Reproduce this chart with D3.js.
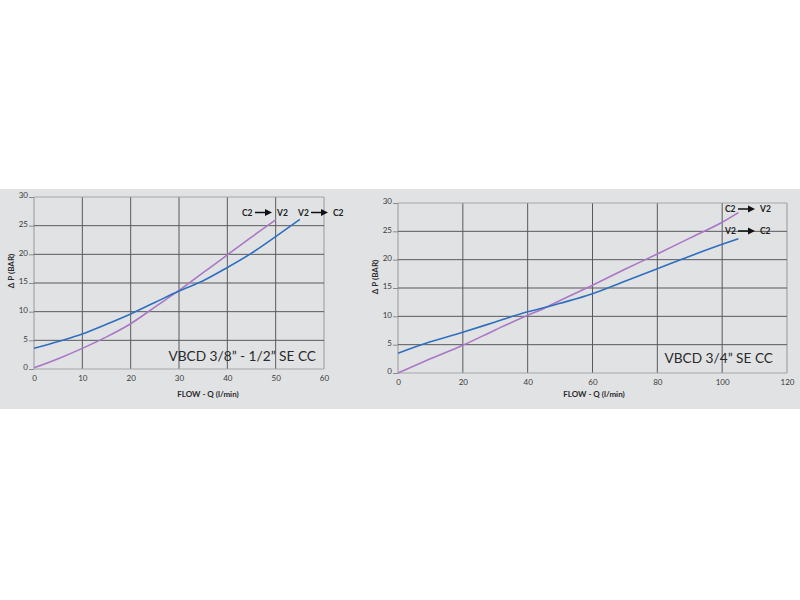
<!DOCTYPE html>
<html><head><meta charset="utf-8">
<script src="https://cdn.jsdelivr.net/npm/d3@7"></script>
<style>body{margin:0;background:#fff;} text{font-family:"Lato","DejaVu Sans",sans-serif;}</style>
</head><body>
<svg id="c" width="800" height="600"></svg>
<script>
// ---- data ----
const leftFlowV2C2 = [0,5,10,15,20,25,30,35,40,45,50,55];
const leftV2C2     = [3.6,4.8,6.1,7.8,9.6,11.6,13.6,15.4,17.7,20.2,23.1,26.1];
const leftFlowC2V2 = [0,5,10,15,20,25,30,35,40,45,50];
const leftC2V2     = [0.2,1.8,3.6,5.6,7.9,10.8,13.7,16.8,19.9,23.0,26.0];
const leftXTicks = [0,10,20,30,40,50,60];
const leftYTicks = [0,5,10,15,20,25,30];

const rightFlow    = [0,10,20,30,40,45,50,60,70,80,90,100,105];
const rightV2C2    = [3.5,5.5,7.2,9.0,10.8,11.5,12.3,14.0,16.2,18.4,20.6,22.7,23.7];
const rightC2V2    = [0,2.5,4.9,7.6,10.2,11.4,12.8,15.5,18.3,21.0,23.8,26.6,28.3];
const rightXTicks = [0,20,40,60,80,100,120];
const rightYTicks = [0,5,10,15,20,25,30];

const titles = ["VBCD 3/8\u201d - 1/2\u201d SE CC", "VBCD 3/4\u201d SE CC"];
const xLabel = "FLOW - Q (l/min)";
const yLabel = "\u0394  P (BAR)";

const BLUE = "#2f6fbe", PURPLE = "#a977c6";
const svg = d3.select("#c");
svg.append("rect").attr("x",0).attr("y",189).attr("width",800).attr("height",220).attr("fill","#e1e2e4");

function chart(o){
  const x = d3.scaleLinear().domain(o.xd).range(o.xr);
  const y = d3.scaleLinear().domain([0,30]).range(o.yr);
  const g = svg.append("g");
  // grid
  o.xTicks.forEach((t,i)=>{
    const edge = (i===0||i===o.xTicks.length-1);
    g.append("line").attr("x1",x(t)).attr("x2",x(t)).attr("y1",y(0)).attr("y2",y(30))
      .attr("stroke", edge?"#a4a5a8":"#58595b").attr("stroke-width", edge?1.2:1);
  });
  o.yTicks.forEach((t,i)=>{
    const edge = (i===0||i===o.yTicks.length-1);
    g.append("line").attr("x1",x(o.xd[0])).attr("x2",x(o.xd[1])).attr("y1",y(t)).attr("y2",y(t))
      .attr("stroke", edge?"#a4a5a8":"#58595b").attr("stroke-width", edge?1.2:1);
  });
  // axes
  const ax = g.append("g").attr("transform",`translate(0,${y(0)})`)
    .call(d3.axisBottom(x).tickValues(o.xTicks).tickSize(0).tickPadding(6));
  const ay = g.append("g").attr("transform",`translate(${x(0)},0)`)
    .call(d3.axisLeft(y).tickValues(o.yTicks).tickSize(5).tickPadding(1));
  [ax,ay].forEach(a=>{
    a.select(".domain").remove();
    a.selectAll("text").attr("fill","#3a3a3a").style("font-size","8px").style("font-family","Lato, DejaVu Sans, sans-serif");
    a.selectAll(".tick line").attr("stroke","#8a8b8d");
  });
  ay.selectAll("text").attr("dy","0.1em");
  // curves
  const line = d3.line().x(d=>x(d[0])).y(d=>y(d[1])).curve(d3.curveMonotoneX);
  g.append("path").datum(o.c1.f.map((f,i)=>[f,o.c1.v[i]])).attr("d",line)
    .attr("fill","none").attr("stroke",PURPLE).attr("stroke-width",1.6);
  g.append("path").datum(o.c2.f.map((f,i)=>[f,o.c2.v[i]])).attr("d",line)
    .attr("fill","none").attr("stroke",BLUE).attr("stroke-width",1.6);
  // title
  g.append("text").attr("x",o.title[0]).attr("y",o.title[1]).attr("text-anchor","end")
    .attr("fill","#2a2a2a").style("font-size","13.7px").text(o.title[2]);
  // axis labels
  g.append("text").attr("x",o.xl[0]).attr("y",o.xl[1]).attr("text-anchor","middle")
    .attr("fill","#2a2a2a").style("font-size","8px").style("font-weight","bold").text(xLabel);
  g.append("text").attr("transform",`translate(${o.yl[0]},${o.yl[1]}) rotate(-90)`).attr("text-anchor","middle")
    .attr("fill","#2a2a2a").style("font-size","8px").style("font-weight","bold").text(yLabel);
  // arrow labels
  o.arrows.forEach(a=>{
    const ga = g.append("g").attr("transform",`translate(${a[0]},${a[1]})`);
    ga.append("text").attr("x",0).attr("y",3).attr("fill","#222").style("font-size","8.5px").style("font-weight","bold").text(a[2]);
    ga.append("line").attr("x1",13).attr("x2",24).attr("y1",0).attr("y2",0).attr("stroke","#111").attr("stroke-width",1.5);
    ga.append("path").attr("d","M23,-3.5L30,0L23,3.5Z").attr("fill","#111");
    ga.append("text").attr("x",35).attr("y",3).attr("fill","#222").style("font-size","8.5px").style("font-weight","bold").text(a[3]);
  });
}

chart({xd:[0,60], xr:[34,324], yr:[369,197], xTicks:leftXTicks, yTicks:leftYTicks,
  c1:{f:leftFlowC2V2, v:leftC2V2}, c2:{f:leftFlowV2C2, v:leftV2C2},
  title:[316,361,titles[0]], xl:[208,397], yl:[14,271],
  arrows:[[242,212.5,"C2","V2"],[298,212.5,"V2","C2"]]});
chart({xd:[0,120], xr:[398,787], yr:[373,203], xTicks:rightXTicks, yTicks:rightYTicks,
  c1:{f:rightFlow, v:rightC2V2}, c2:{f:rightFlow, v:rightV2C2},
  title:[773,363,titles[1]], xl:[594,397], yl:[378,277],
  arrows:[[725,209,"C2","V2"],[725,231,"V2","C2"]]});
</script>
</body></html>
